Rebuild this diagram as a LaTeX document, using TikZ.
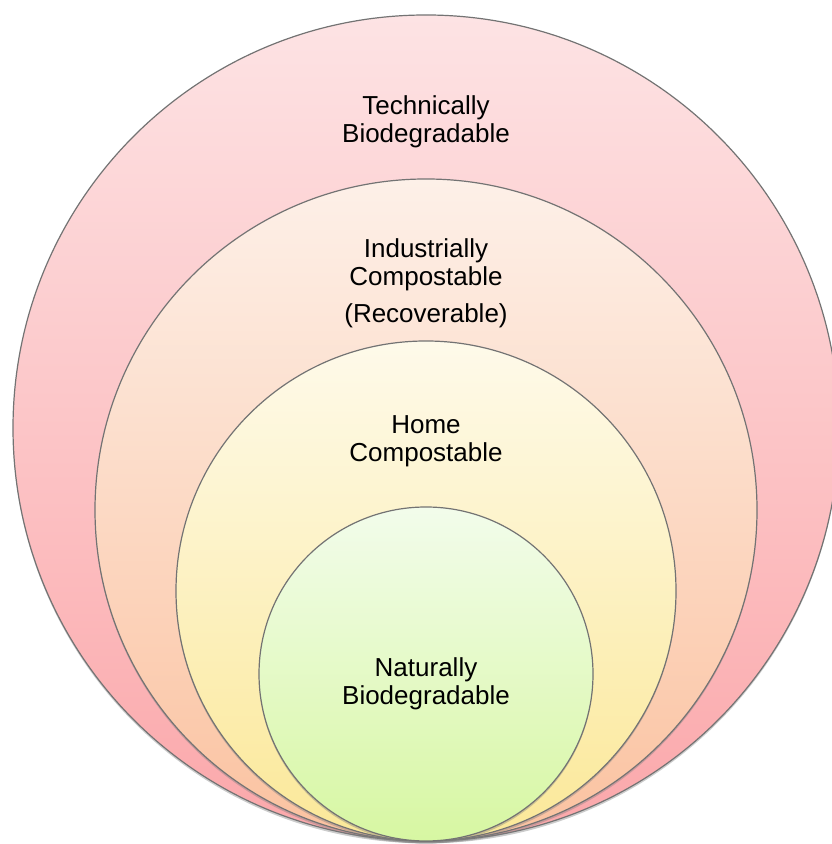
\documentclass[tikz,border=0pt]{standalone}
\usepackage{fontspec}
\setmainfont{Liberation Sans}
\usetikzlibrary{positioning,shadows}

\definecolor{techtop}{HTML}{FDE3E4}
\definecolor{techbot}{HTML}{FBA7AA}
\definecolor{indtop}{HTML}{FDF0E8}
\definecolor{indbot}{HTML}{FBC2A0}
\definecolor{hometop}{HTML}{FEFAEA}
\definecolor{homebot}{HTML}{FBE898}
\definecolor{nattop}{HTML}{F2FCEB}
\definecolor{natbot}{HTML}{D7F7A2}

\begin{document}
\begin{tikzpicture}[x=0.5pt, y=0.5pt]
        \tikzstyle{ring}=[circle, draw=black!55, line width=0.6pt, inner sep=0pt, drop shadow={shadow xshift=0pt, shadow yshift=-1.2pt, opacity=0.4}]
        \tikzstyle{tag}=[align=center, inner sep=0pt, font=\fontsize{13}{13.8}\selectfont, text=black]
        \useasboundingbox (0,0) rectangle (831,844);
        \node [ring, top color=techtop, bottom color=techbot, minimum size=413pt] (tech) at (426,416) {};
        \node [ring, top color=indtop, bottom color=indbot, minimum size=331pt] (ind) at (426,334) {};
        \node [ring, top color=hometop, bottom color=homebot, minimum size=250pt] (home) at (426,253) {};
        \node [ring, top color=nattop, bottom color=natbot, minimum size=167pt] (nat) at (426,170) {};
        \node [tag, below=40.5pt of tech.north] (techlbl) {Technically\\Biodegradable};
        \node [tag, below=30pt of ind.north] (indlbl) {Industrially\\Compostable\\[5pt](Recoverable)};
        \node [tag, below=37.5pt of home.north] (homelbl) {Home\\Compostable};
        \node [tag, below=75.5pt of nat.north] (natlbl) {Naturally\\Biodegradable};
\end{tikzpicture}
\end{document}
